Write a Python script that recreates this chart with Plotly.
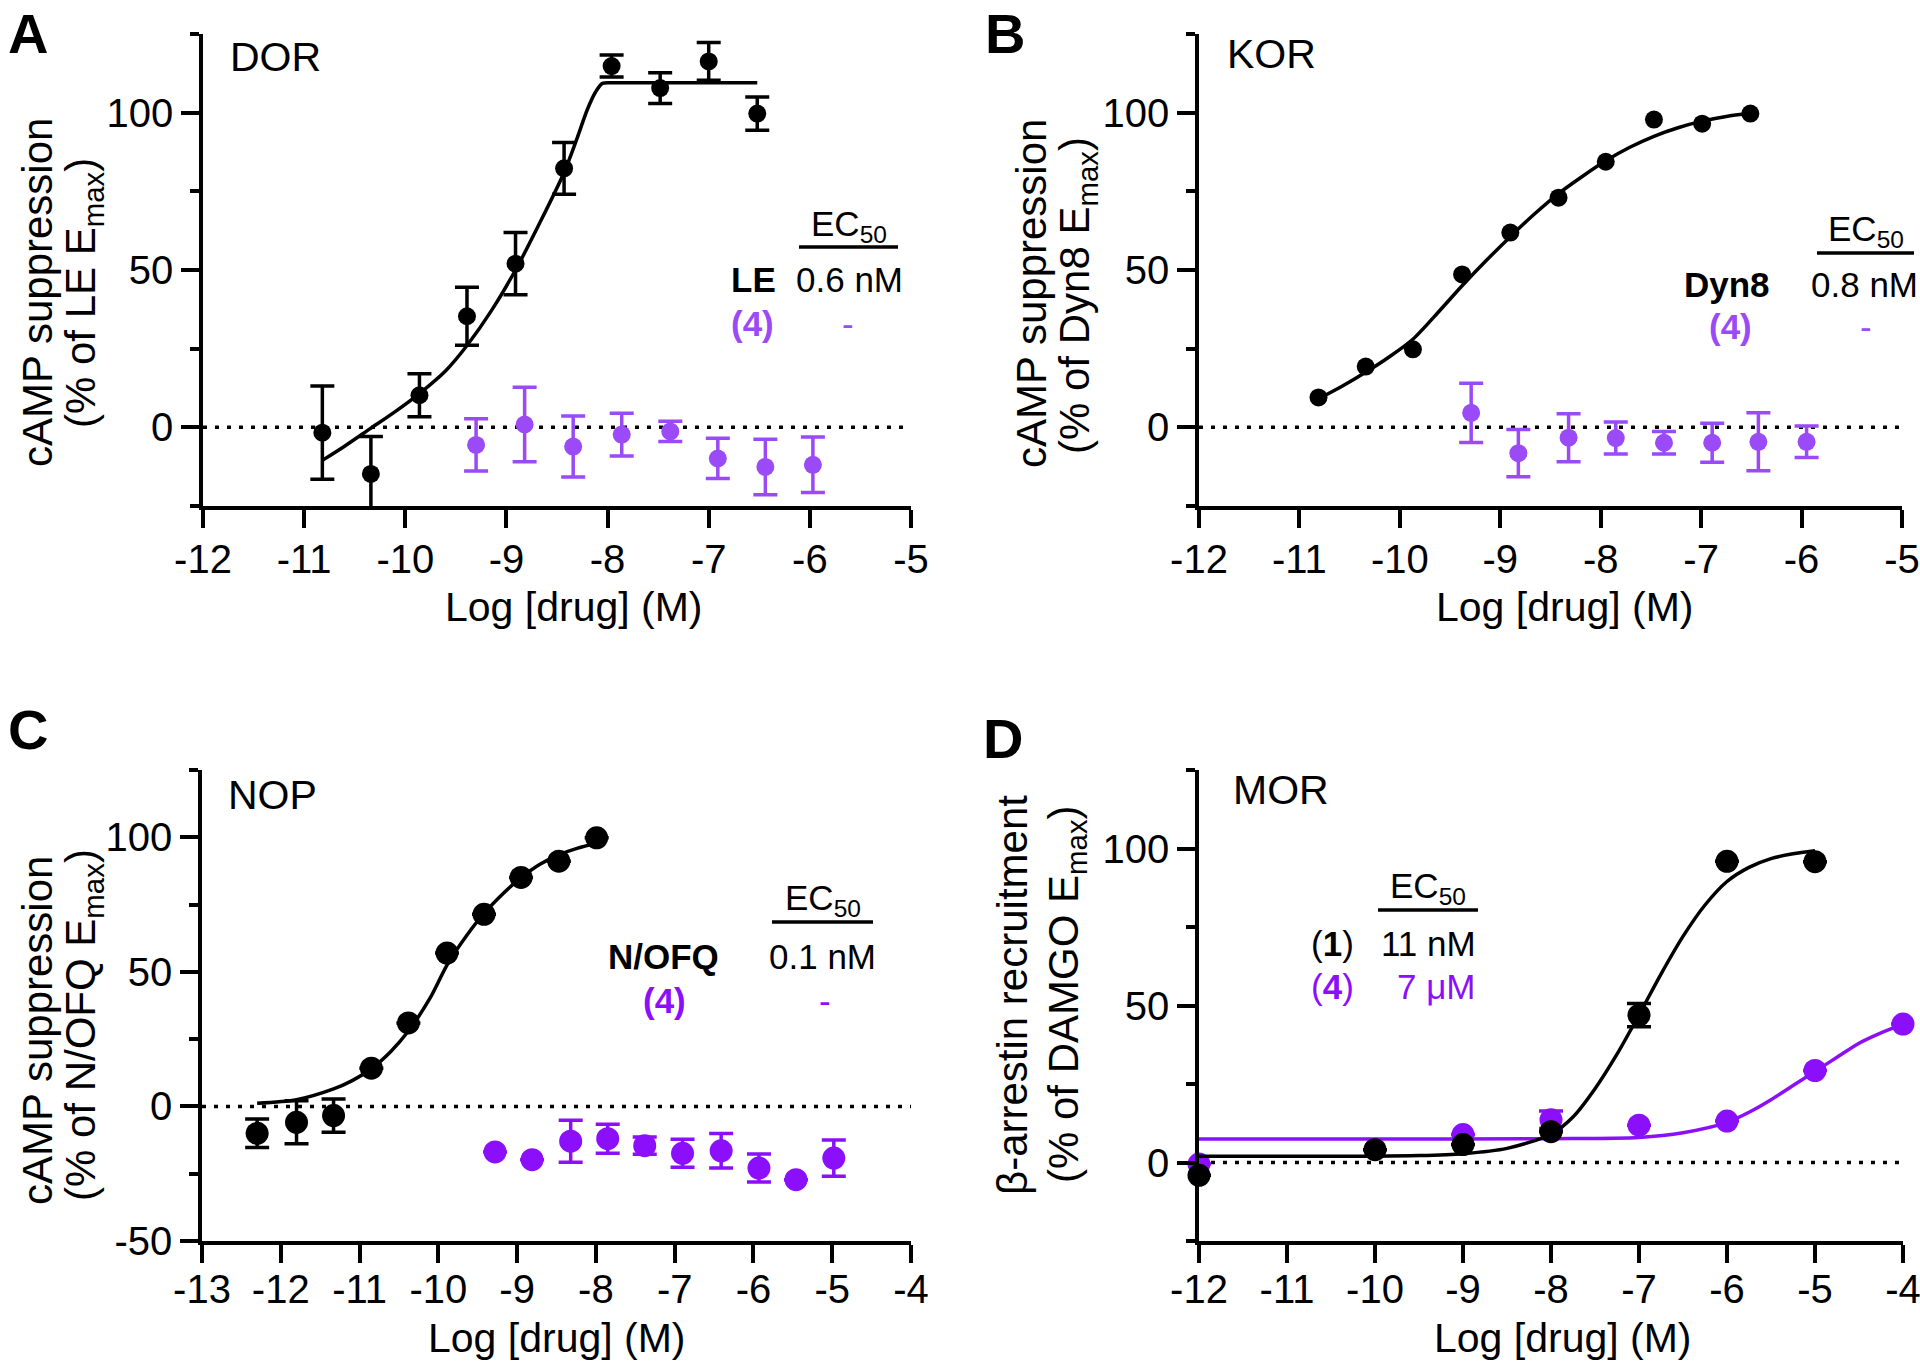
import plotly.graph_objects as go

W, H = 1920, 1367
FONT = "Liberation Sans, Arial, Helvetica, sans-serif"
BLACK = "#000000"
PURPLE_AB = "#9a4af7"
PURPLE_CD = "#8c0ffb"

# ---------------- Panel A: DOR ----------------
A_x_LE = [-10.82, -10.34, -9.86, -9.39, -8.91, -8.43, -7.96, -7.48, -7.00, -6.52]
A_y_LE = [-1.7, -14.8, 10.2, 35.3, 52.0, 82.3, 114.8, 107.8, 116.3, 99.7]
A_e_LE = [14.8, 11.9, 6.8, 9.2, 9.9, 8.2, 3.5, 4.9, 6.0, 5.3]
A_x_4 = [-9.30, -8.82, -8.34, -7.86, -7.38, -6.91, -6.44, -5.97]
A_y_4 = [-5.6, 0.9, -6.1, -2.3, -1.3, -9.9, -12.6, -11.9]
A_e_4 = [8.3, 11.8, 9.7, 6.8, 3.2, 6.4, 8.8, 8.8]
A_fit_x = [-10.82, -10.6, -10.35, -10.1, -9.87, -9.6, -9.39, -9.15, -8.91,
           -8.67, -8.43, -8.3, -8.2, -8.12, -8.05, -7.95, -7.5, -7.0, -6.52]
A_fit_y = [-10.5, -6.0, -0.5, 5.0, 10.5, 18.0, 26.0, 37.0, 50.0,
           65.0, 81.0, 92.0, 101.0, 106.5, 109.3, 109.5, 109.5, 109.5, 109.5]

# ---------------- Panel B: KOR ----------------
B_x_Dyn8 = [-10.81, -10.34, -9.87, -9.38, -8.90, -8.42, -7.95, -7.47, -6.99, -6.51]
B_y_Dyn8 = [9.5, 19.3, 24.8, 48.6, 61.9, 73.0, 84.4, 97.8, 96.5, 99.7]
B_x_4 = [-9.29, -8.82, -8.32, -7.85, -7.37, -6.89, -6.43, -5.95]
B_y_4 = [4.6, -8.2, -3.3, -3.4, -4.9, -4.9, -4.6, -4.6]
B_e_4 = [9.4, 7.5, 7.6, 5.1, 3.6, 6.2, 9.2, 5.0]
B_fit_x = [-10.81, -10.58, -10.34, -10.1, -9.87, -9.62, -9.38, -9.14, -8.90,
           -8.66, -8.42, -8.18, -7.95, -7.71, -7.47, -7.23, -6.99, -6.75, -6.51]
B_fit_y = [9.1, 13.0, 17.5, 22.5, 28.0, 36.5, 45.0, 53.0, 60.6,
           67.8, 74.3, 79.8, 84.7, 89.0, 92.5, 95.2, 97.3, 98.8, 99.8]

# ---------------- Panel C: NOP ----------------
C_x_NOFQ = [-12.30, -11.80, -11.33, -10.85, -10.38, -9.89, -9.42, -8.95, -8.47, -7.99]
C_y_NOFQ = [-10.0, -5.9, -3.4, 14.2, 31.0, 57.0, 71.4, 85.1, 91.1, 99.8]
C_e_NOFQ = [5.3, 8.0, 6.2, None, None, None, None, None, None, None]
C_x_4 = [-9.28, -8.81, -8.32, -7.85, -7.38, -6.90, -6.41, -5.93, -5.46, -4.98]
C_y_4 = [-16.9, -19.8, -12.9, -12.0, -14.6, -17.4, -16.5, -22.9, -27.2, -19.2]
C_e_4 = [None, None, 7.8, 5.4, 3.2, 5.2, 6.4, 5.2, None, 6.7]
C_fit_x = [-12.30, -11.80, -11.33, -11.1, -10.85, -10.6, -10.38, -10.1, -9.89,
           -9.64, -9.42, -9.17, -8.95, -8.71, -8.47, -8.23, -7.99]
C_fit_y = [1.2, 2.5, 6.5, 9.5, 14.0, 20.5, 28.0, 40.5, 52.5,
           63.5, 71.7, 79.3, 85.0, 90.0, 93.5, 96.0, 97.8]

# ---------------- Panel D: MOR ----------------
D_x_1 = [-12, -10, -9, -8, -7, -6, -5]
D_y_1 = [-4.1, 4.1, 5.7, 9.8, 46.9, 95.9, 95.8]
D_e_1 = [None, None, None, None, 3.7, None, None]
D_x_4 = [-12, -9, -8, -7, -6, -5, -4]
D_y_4 = [-0.5, 8.9, 13.6, 11.9, 13.2, 29.3, 44.1]
D_e_4 = [None, None, 2.8, None, None, None, None]
D_fit1_x = [-12, -11, -10, -9.5, -9, -8.5, -8, -7.75, -7.5, -7.25, -7,
            -6.75, -6.5, -6.25, -6, -5.75, -5.5, -5.25, -5]
D_fit1_y = [2.0, 2.0, 2.0, 2.2, 2.8, 4.5, 9.0, 14.5, 23.5, 34.5, 47.0,
            60.0, 72.0, 82.0, 89.5, 94.0, 96.8, 98.3, 99.3]
D_fit4_x = [-12, -10, -8, -7, -6.5, -6, -5.75, -5.5, -5.25, -5, -4.75, -4.5, -4.25, -4]
D_fit4_y = [7.5, 7.5, 7.6, 8.0, 9.5, 12.8, 16.0, 20.0, 24.5, 29.0, 33.5, 38.0, 41.3, 44.1]

fig = go.Figure()


def pts(x, y, err, color, size, xa, ya, clip=True):
    ey = None
    if err is not None:
        ey = dict(type="data", array=err, visible=True, color=color,
                  thickness=3.5, width=12)
    fig.add_trace(go.Scatter(x=x, y=y, mode="markers", xaxis=xa, yaxis=ya,
                             marker=dict(color=color, size=size, line=dict(width=0)),
                             error_y=ey, cliponaxis=clip, showlegend=False))


def fit(x, y, color, xa, ya):
    fig.add_trace(go.Scatter(x=x, y=y, mode="lines", xaxis=xa, yaxis=ya,
                             line=dict(color=color, width=3.5, shape="spline", smoothing=0.8),
                             cliponaxis=False, showlegend=False, hoverinfo="skip"))


# A
pts(A_x_4, A_y_4, A_e_4, PURPLE_AB, 18, "x", "y")
fit(A_fit_x, A_fit_y, BLACK, "x", "y")
pts(A_x_LE, A_y_LE, A_e_LE, BLACK, 18, "x", "y")
# B
pts(B_x_4, B_y_4, B_e_4, PURPLE_AB, 18, "x2", "y2")
fit(B_fit_x, B_fit_y, BLACK, "x2", "y2")
pts(B_x_Dyn8, B_y_Dyn8, None, BLACK, 18, "x2", "y2")
# C
pts(C_x_4, C_y_4, C_e_4, PURPLE_CD, 23, "x3", "y3")
fit(C_fit_x, C_fit_y, BLACK, "x3", "y3")
pts(C_x_NOFQ, C_y_NOFQ, C_e_NOFQ, BLACK, 23, "x3", "y3")
# D
fit(D_fit4_x, D_fit4_y, PURPLE_CD, "x4", "y4")
pts(D_x_4, D_y_4, D_e_4, PURPLE_CD, 23, "x4", "y4", clip=False)
fit(D_fit1_x, D_fit1_y, BLACK, "x4", "y4")
pts(D_x_1, D_y_1, D_e_1, BLACK, 23, "x4", "y4", clip=False)


def fx(p):
    return p / W


def fy(p):
    return 1 - p / H


def xaxis(d0, d1, anchor, rng, ticks, standoff):
    return dict(domain=[fx(d0), fx(d1)], anchor=anchor, range=rng, automargin=False,
                tickmode="array", tickvals=ticks, ticktext=[str(t) for t in ticks],
                ticks="outside", ticklen=18, tickwidth=3.5, tickcolor=BLACK,
                showline=True, linewidth=3.5, linecolor=BLACK,
                showgrid=False, zeroline=False, ticklabelstandoff=standoff,
                ticklabeloverflow="allow",
                tickfont=dict(size=40, family=FONT, color=BLACK))


def yaxis(t, b, anchor, rng, major, minor):
    return dict(domain=[fy(b), fy(t)], anchor=anchor, range=rng, automargin=False,
                tickmode="array", tickvals=major, ticktext=[str(t) for t in major],
                ticks="outside", ticklen=18, tickwidth=3.5, tickcolor=BLACK,
                minor=dict(tickmode="array", tickvals=minor, ticks="outside",
                           ticklen=9, tickwidth=3.5, tickcolor=BLACK, showgrid=False),
                showline=True, linewidth=3.5, linecolor=BLACK,
                showgrid=False, zeroline=False, ticklabelstandoff=0,
                ticklabeloverflow="allow",
                tickfont=dict(size=40, family=FONT, color=BLACK))


X_AB = [-12, -11, -10, -9, -8, -7, -6, -5]
X_C = [-13, -12, -11, -10, -9, -8, -7, -6, -5, -4]
X_D = [-12, -11, -10, -9, -8, -7, -6, -5, -4]

fig.update_layout(
    width=W, height=H, margin=dict(l=0, r=0, t=0, b=0, pad=0, autoexpand=False),
    paper_bgcolor="white", plot_bgcolor="white", showlegend=False,
    font=dict(family=FONT, color=BLACK),
    xaxis=xaxis(203, 911, "y", [-12, -5], X_AB, -3),
    yaxis=yaxis(34, 506, "x", [-25, 125], [0, 50, 100], [-25, 25, 75, 125]),
    xaxis2=xaxis(1199, 1902, "y2", [-12, -5], X_AB, -3),
    yaxis2=yaxis(34, 506, "x2", [-25, 125], [0, 50, 100], [-25, 25, 75, 125]),
    xaxis3=xaxis(202, 911, "y3", [-13, -4], X_C, -8),
    yaxis3=yaxis(770, 1241, "x3", [-50, 125], [-50, 0, 50, 100], [-25, 25, 75, 125]),
    xaxis4=xaxis(1199, 1903, "y4", [-12, -4], X_D, -8),
    yaxis4=yaxis(770, 1241, "x4", [-25, 125], [0, 50, 100], [-25, 25, 75, 125]),
)

shapes = []
for xr, yr, x0, x1 in [("x", "y", -12, -5), ("x2", "y2", -12, -5),
                       ("x3", "y3", -13, -4), ("x4", "y4", -12, -4)]:
    shapes.append(dict(type="line", xref=xr, yref=yr, x0=x0, x1=x1, y0=0, y1=0,
                       line=dict(color=BLACK, width=3.5, dash="4px,8px"), layer="below"))
# EC50 header underlines
for x0, x1, y in [(799, 898, 247), (1817, 1914, 253), (772, 873, 922), (1378, 1478, 910)]:
    shapes.append(dict(type="line", xref="paper", yref="paper", x0=fx(x0), x1=fx(x1),
                       y0=fy(y), y1=fy(y), line=dict(color=BLACK, width=3.5)))
fig.update_layout(shapes=shapes)

ann = []


def txt(s, x, y, size, color=BLACK, xanchor="center", angle=0):
    ann.append(dict(text=s, x=fx(x), y=fy(y), xref="paper", yref="paper",
                    showarrow=False, xanchor=xanchor, yanchor="middle",
                    textangle=angle, font=dict(size=size, family=FONT, color=color)))


# panel letters
txt("<b>A</b>", 28, 33, 56)
txt("<b>B</b>", 1005, 33, 56)
txt("<b>C</b>", 28, 729, 56)
txt("<b>D</b>", 1003, 738, 56)
# receptor labels
txt("DOR", 228, 57, 41, xanchor="left")
txt("KOR", 1225, 54, 41, xanchor="left")
txt("NOP", 226, 795, 41, xanchor="left")
txt("MOR", 1231, 790, 41, xanchor="left")
# x titles
XT = "Log [drug] (M)"
txt(XT, 574, 607, 41)
txt(XT, 1565, 607, 41)
txt(XT, 557, 1338, 41)
txt(XT, 1563, 1338, 41)
# y titles
txt("cAMP suppression", 37, 293, 42, angle=-90)
txt("(% of LE E<sub>max</sub>)", 83, 293, 42, angle=-90)
txt("cAMP suppression", 1031, 294, 42, angle=-90)
txt("(% of Dyn8 E<sub>max</sub>)", 1077, 296, 42, angle=-90)
txt("cAMP suppression", 37, 1031, 42, angle=-90)
txt("(% of N/OFQ E<sub>max</sub>)", 83, 1025, 42, angle=-90)
txt("β-arrestin recruitment", 1013, 995, 42, angle=-90)
txt("(% of DAMGO E<sub>max</sub>)", 1066, 994, 42, angle=-90)

# EC50 tables
TS = 35
txt("EC<sub>50</sub>", 849, 226, TS)
txt("<b>LE</b>", 753, 280, TS)
txt("0.6 nM", 849, 280, TS)
txt("<b>(4)</b>", 752, 323, TS, color=PURPLE_AB)
txt("-", 848, 323, TS, color=PURPLE_AB)

txt("EC<sub>50</sub>", 1866, 231, TS)
txt("<b>Dyn8</b>", 1727, 284, TS)
txt("0.8 nM", 1864, 284, TS)
txt("<b>(4)</b>", 1730, 327, TS, color=PURPLE_AB)
txt("-", 1866, 327, TS, color=PURPLE_AB)

txt("EC<sub>50</sub>", 823, 900, TS)
txt("<b>N/OFQ</b>", 663, 956, TS)
txt("0.1 nM", 822, 956, TS)
txt("<b>(4)</b>", 664, 1000, TS, color=PURPLE_CD)
txt("-", 825, 1000, TS, color=PURPLE_CD)

txt("EC<sub>50</sub>", 1428, 888, TS)
txt("(<b>1</b>)", 1332, 943, TS)
txt("11 nM", 1478, 943, TS, xanchor="right")
txt("(<b>4</b>)", 1332, 986, TS, color=PURPLE_CD)
txt("7 μM", 1478, 986, TS, color=PURPLE_CD, xanchor="right")

fig.update_layout(annotations=ann)

fig.write_html("out.html", config={"displayModeBar": False},
               post_script="document.body.style.margin='0px';")
